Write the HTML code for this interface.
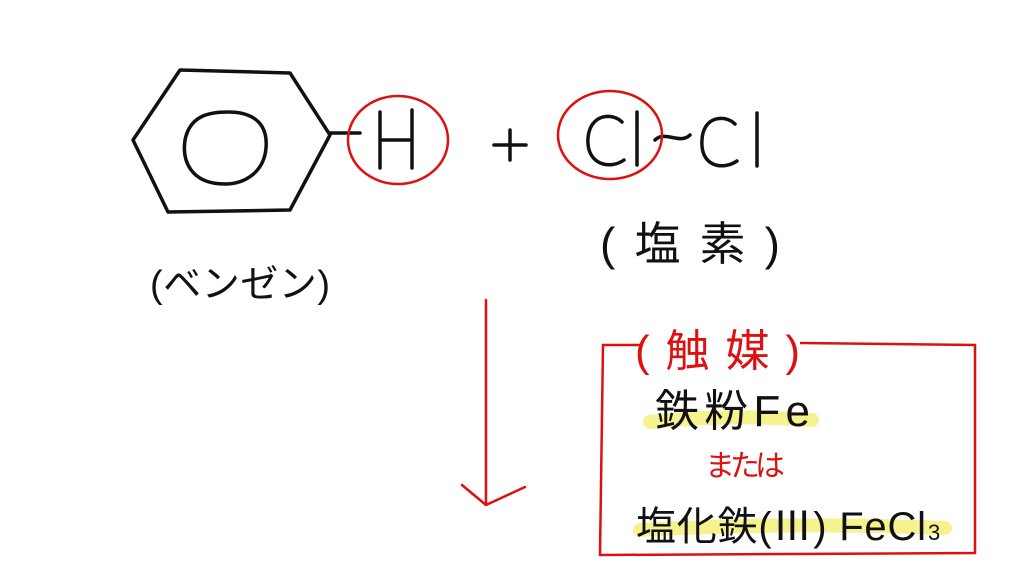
<!DOCTYPE html>
<html><head><meta charset="utf-8"><style>
html,body{margin:0;padding:0;background:#fff;}
svg{display:block;}
text{font-family:"Liberation Sans","Noto Sans CJK JP",sans-serif;}
</style></head><body>
<svg width="1024" height="576" viewBox="0 0 1024 576" xmlns="http://www.w3.org/2000/svg">
<rect width="1024" height="576" fill="#fff"/>
<path d="M650 422 Q730 414 812 420" stroke="#f5f07a" stroke-width="14" fill="none" stroke-linecap="round" opacity="0.85"/>
<path d="M640 530 Q790 522 945 528" stroke="#f5f07a" stroke-width="14" fill="none" stroke-linecap="round" opacity="0.85"/>
<g stroke="#111" stroke-width="3.5" fill="none" stroke-linejoin="round" stroke-linecap="round">
<path d="M133 140 L180 70 L290 73 L330 135 L290 210 L168 212 Z"/>
<path d="M225 184 C190 184 182 160 185 140 C190 115 210 112 228 112 C255 112 268 125 266 148 C264 172 245 184 225 184 Z"/>
<path d="M330 133 L360 133"/>
<path d="M380 112 L380 168 M412 110 L412 168 M380 140 L412 140"/>
<path d="M494 145 L526 145 M510 130 L510 160"/>
<path d="M622 122 C612 112 590 114 588 138 C586 165 610 170 624 160"/>
<path d="M637 112 L637 165"/>
<path d="M655 140 C665 130 680 145 690 135"/>
<path d="M735 124 C725 114 703 116 702 140 C700 166 722 171 737 161"/>
<path d="M757 113 L757 166"/>
</g>
<g stroke="#d11" stroke-width="2.5" fill="none">
<ellipse cx="398" cy="140" rx="50" ry="44"/>
<ellipse cx="610" cy="135" rx="52" ry="44"/>
<path d="M486 300 L486 505 M462 485 L486 505 L525 487" stroke-linecap="round" stroke-linejoin="round"/>
<path d="M640 345 L603 345 L600 555 L975 553 L975 345 L800 343"/>
</g>
<text x="150" y="297" font-size="38" fill="#111" textLength="180" lengthAdjust="spacing">(ベンゼン)</text>
<text x="600" y="260" font-size="46" fill="#111" textLength="180" lengthAdjust="spacing">(塩素)</text>
<text x="635" y="366" font-size="44" fill="#d11" textLength="165" lengthAdjust="spacing">(触媒)</text>
<text x="655" y="426" font-size="44" fill="#111" textLength="155" lengthAdjust="spacing">鉄粉Fe</text>
<text x="705" y="476" font-size="30" fill="#d11" textLength="80" lengthAdjust="spacing">または</text>
<text x="636" y="540" font-size="40" fill="#111" textLength="290" lengthAdjust="spacing">塩化鉄(Ⅲ) FeCl</text>
<text x="928" y="540" font-size="22" fill="#111">3</text>
</svg>
</body></html>
